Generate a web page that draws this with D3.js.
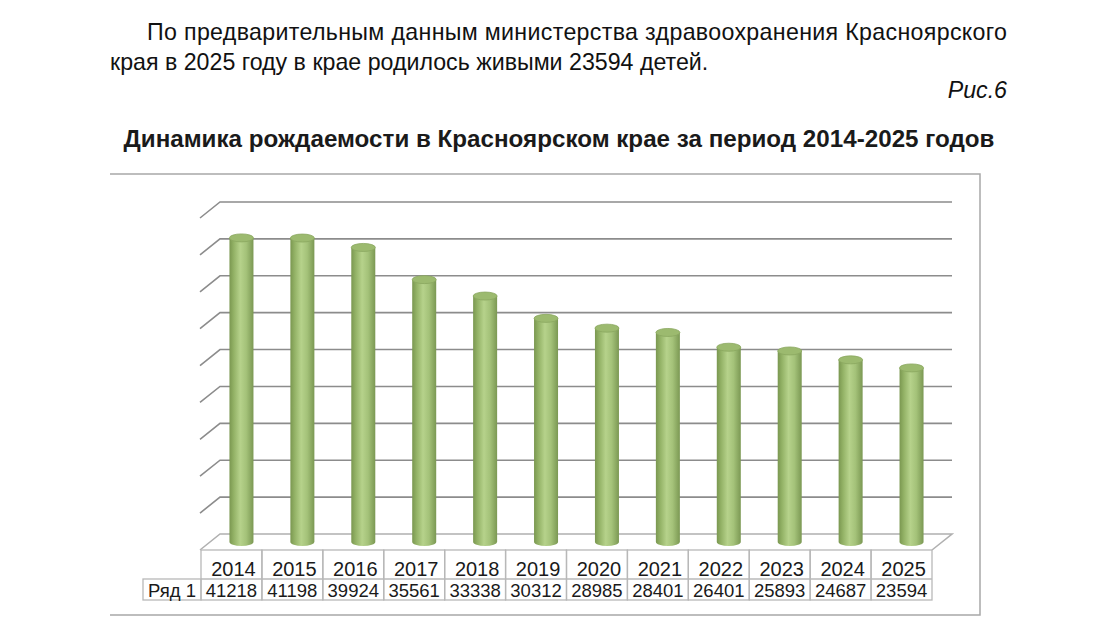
<!DOCTYPE html>
<html>
<head>
<meta charset="utf-8">
<script src="https://cdn.jsdelivr.net/npm/d3@7"></script>
<style>
  body { margin: 0; background: #fff; }
  svg { display: block; font-family: "Liberation Sans", Arial, sans-serif; }
</style>
</head>
<body>
<svg id="chart" width="1099" height="620"></svg>
<script>
// data
const years = ['2014', '2015', '2016', '2017', '2018', '2019', '2020', '2021', '2022', '2023', '2024', '2025'];
const births = [41218, 41198, 39924, 35561, 33338, 30312, 28985, 28401, 26401, 25893, 24687, 23594];
const seriesName = 'Ряд 1';
const yMax = 45000;
const yStep = 5000;

const textLine1 = 'По предварительным данным министерства здравоохранения Красноярского';
const textLine2 = 'края в 2025 году в крае родилось живыми 23594 детей.';
const figLabel = 'Рис.6';
const title = 'Динамика рождаемости в Красноярском крае за период 2014-2025 годов';

const svg = d3.select('#chart');
const data = years.map(function (y, i) { return { year: y, value: births[i] }; });

// paragraph text
svg.append('text').attr('x', 147).attr('y', 40)
  .attr('font-size', 23.2).attr('fill', '#111')
  .attr('textLength', 860).attr('lengthAdjust', 'spacing')
  .text(textLine1);
svg.append('text').attr('x', 110).attr('y', 70)
  .attr('font-size', 23.2).attr('fill', '#111')
  .text(textLine2);
svg.append('text').attr('x', 1007).attr('y', 98)
  .attr('font-size', 23.2).attr('font-style', 'italic').attr('text-anchor', 'end').attr('fill', '#111')
  .text(figLabel);
svg.append('text').attr('x', 559).attr('y', 147)
  .attr('font-size', 24.2).attr('font-weight', 'bold').attr('text-anchor', 'middle').attr('fill', '#1a1a1a')
  .text(title);

// chart frame (top, right, bottom edges)
const frame = svg.append('g').attr('stroke', '#a8a8a8').attr('stroke-width', 1.5).attr('fill', 'none');
frame.append('path').attr('d', 'M110,174 L980,174 L980,615 L110,615');

// 3D geometry
const depthX = 20, depthY = -16;
const xScale = d3.scaleBand().domain(years).range([201, 932]).padding(0);
const yBack = d3.scaleLinear().domain([0, yMax]).range([534, 202]);
const ticks = d3.range(0, yMax + 1, yStep);

const grid = svg.append('g').attr('stroke', '#8c8c8c').attr('stroke-width', 1.6).attr('fill', 'none');

// floor
const x0 = xScale.range()[0] - 1, x1 = xScale.range()[1];
grid.append('path')
  .attr('d', 'M' + x0 + ',' + (yBack(0) - depthY) + ' L' + (x0 + depthX) + ',' + yBack(0) +
    ' L' + (x1 + depthX) + ',' + yBack(0) + ' L' + x1 + ',' + (yBack(0) - depthY))
  .attr('stroke', '#b0b0b0');

grid.selectAll('.hline')
  .data(ticks.filter(function (t) { return t > 0; }))
  .enter().append('path')
  .attr('class', 'hline')
  .attr('d', function (t) {
    return 'M' + x0 + ',' + (yBack(t) - depthY) + ' L' + (x0 + depthX) + ',' + yBack(t) + ' L' + (x1 + depthX) + ',' + yBack(t);
  });

// cylinder gradient
const defs = svg.append('defs');
const grad = defs.append('linearGradient').attr('id', 'cyl').attr('x1', '0').attr('x2', '1').attr('y1', '0').attr('y2', '0');
[['0%', '#7a9750'], ['18%', '#93b266'], ['45%', '#b6d28b'], ['70%', '#a4c279'], ['100%', '#7b9853']].forEach(function (s) {
  grad.append('stop').attr('offset', s[0]).attr('stop-color', s[1]);
});

const barW = 24, ry = 4;
const bars = svg.append('g');
bars.selectAll('.bar')
  .data(data)
  .enter().append('path')
  .attr('class', 'bar')
  .attr('fill', 'url(#cyl)')
  .attr('d', function (d) {
    const cx = xScale(d.year) + xScale.bandwidth() / 2 + depthX / 2;
    const top = yBack(d.value) - depthY / 2;
    const bot = yBack(0) - depthY / 2;
    const l = cx - barW / 2, r = cx + barW / 2;
    return 'M' + l + ',' + top + ' L' + l + ',' + bot +
      ' A' + (barW / 2) + ',' + ry + ' 0 0 0 ' + r + ',' + bot +
      ' L' + r + ',' + top + ' Z';
  });
bars.selectAll('.cap')
  .data(data)
  .enter().append('ellipse')
  .attr('class', 'cap')
  .attr('cx', function (d) { return xScale(d.year) + xScale.bandwidth() / 2 + depthX / 2; })
  .attr('cy', function (d) { return yBack(d.value) - depthY / 2; })
  .attr('rx', barW / 2).attr('ry', ry)
  .attr('fill', '#9cba6f').attr('stroke', '#8aa760').attr('stroke-width', 0.8);

// data table
const rowTop = 550, rowMid = 579, rowBot = 600, labelLeft = 143;
const table = svg.append('g');
table.selectAll('.ycell')
  .data(years)
  .enter().append('rect')
  .attr('x', function (d) { return xScale(d); })
  .attr('y', rowTop)
  .attr('width', xScale.bandwidth())
  .attr('height', rowBot - rowTop)
  .attr('fill', 'none').attr('stroke', '#b8b8b8').attr('stroke-width', 1.3);
table.append('rect')
  .attr('x', labelLeft).attr('y', rowMid)
  .attr('width', xScale.range()[0] - labelLeft).attr('height', rowBot - rowMid)
  .attr('fill', 'none').attr('stroke', '#b8b8b8').attr('stroke-width', 1.3);
table.append('line')
  .attr('x1', xScale.range()[0]).attr('x2', xScale.range()[1])
  .attr('y1', rowMid).attr('y2', rowMid)
  .attr('stroke', '#b8b8b8').attr('stroke-width', 1.3);

table.selectAll('.ylab')
  .data(years)
  .enter().append('text')
  .attr('x', function (d) { return xScale(d) + xScale.bandwidth() / 2 + 2; })
  .attr('y', 576)
  .attr('text-anchor', 'middle').attr('font-size', 20).attr('fill', '#1a1a1a')
  .text(function (d) { return d; });
table.selectAll('.vlab')
  .data(data)
  .enter().append('text')
  .attr('x', function (d) { return xScale(d.year) + xScale.bandwidth() / 2; })
  .attr('y', 597)
  .attr('text-anchor', 'middle').attr('font-size', 18.5).attr('fill', '#1a1a1a')
  .text(function (d) { return d.value; });
table.append('text')
  .attr('x', (labelLeft + xScale.range()[0]) / 2).attr('y', 597)
  .attr('text-anchor', 'middle').attr('font-size', 18.5).attr('fill', '#1a1a1a')
  .text(seriesName);
</script>
</body>
</html>
